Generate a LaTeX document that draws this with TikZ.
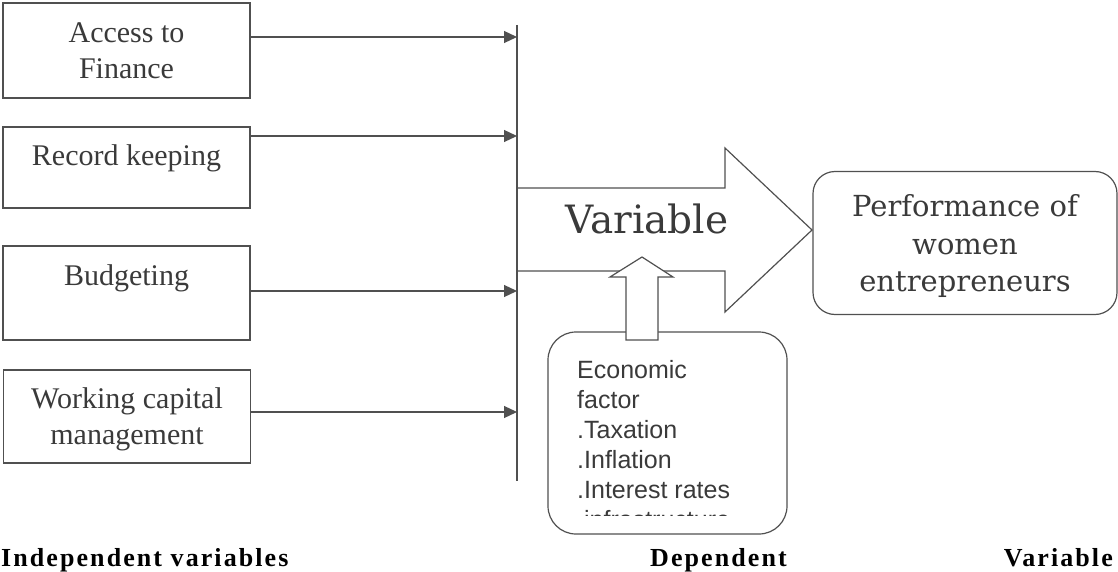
\documentclass[tikz,border=0pt]{standalone}
\usepackage{fontspec}
\usepackage{xcolor}
\usepackage{tikz}
\usetikzlibrary{arrows.meta}
\newfontfamily\boxfont{Liberation Serif}
\newfontfamily\capfont{DejaVu Serif}
\newfontfamily\listfont{Liberation Sans}
\newfontfamily\tagfont[LetterSpace=8]{Liberation Serif}
\definecolor{linegray}{RGB}{80,80,80}
\definecolor{inkgray}{RGB}{58,58,58}

\begin{document}
\begin{tikzpicture}[x=1pt,y=-1pt,
 varbox/.style={draw=linegray,line width=1.2pt,minimum width=247pt,inner sep=0pt,
                align=center,text depth=0pt,text=inkgray,
                font=\boxfont\fontsize{30}{36}\selectfont},
 roundbox/.style={draw=linegray,line width=1.2pt,inner sep=0pt,align=center,
                  text=inkgray},
 feed/.style={-{Triangle[length=13pt,width=12pt]},draw=linegray,line width=1.2pt},
 bus/.style={draw=linegray,line width=1.2pt},
 blockarrow/.style={draw=linegray,line width=1.2pt,line join=miter},
 tagtext/.style={inner sep=0pt,text=black,font=\tagfont\bfseries\fontsize{26}{30}\selectfont}]
 \useasboundingbox (0,0) rectangle (1118,572);
 % independent variables
 \node[varbox,minimum height=95pt] (acc) at (126.5,50.5) {Access to\\Finance};
 \node[varbox,minimum height=81pt,text depth=25.5pt] (rec) at (126.5,167.5) {Record keeping};
 \node[varbox,minimum height=94pt,text depth=36.5pt] (bud) at (126.5,293) {Budgeting};
 \node[varbox,minimum height=93pt] (wcm) at (127,416.5) {Working capital\\management};
 % collecting line
 \coordinate (bustop) at (517,25);
 \coordinate (busbot) at (517,481);
 \draw[bus] (bustop) -- (busbot);
 \coordinate (inA) at (517,37);
 \coordinate (inB) at (517,136);
 \coordinate (inC) at (517,291);
 \coordinate (inD) at (517,412);
 \draw[feed] (acc.east |- inA) -- (inA);
 \draw[feed] (rec.east |- inB) -- (inB);
 \draw[feed] (bud.east |- inC) -- (inC);
 \draw[feed] (wcm.east |- inD) -- (inD);
 % big arrow
 \coordinate (tip) at (812,230);
 \draw[blockarrow] (517,188) -- (725,188) -- (725,148) -- (tip)
   -- (725,312) -- (725,271) -- (517,271);
 \node[inner sep=0pt,text=inkgray,font=\capfont\fontsize{39}{44}\selectfont,anchor=base]
   (var) at (647,233) {Variable};
 % dependent variable
 \node[roundbox,rounded corners=22pt,minimum width=304pt,minimum height=143pt,
       text depth=0pt,font=\capfont\fontsize{29}{37.5}\selectfont]
   (perf) at (965,243) {Performance of\\women\\entrepreneurs};
 % economic factor
 \node[roundbox,rounded corners=28pt,minimum width=239pt,minimum height=202pt] (econ) at (667.5,433) {};
 \begin{scope}
  \clip (econ.north west) rectangle (787,515);
  \node[inner sep=0pt,align=left,anchor=north west,text=inkgray,
        font=\listfont\fontsize{25}{30}\selectfont]
    (eclist) at (577,360) {Economic\\factor\\.Taxation\\.Inflation\\.Interest rates\\.infrastructure};
 \end{scope}
 \draw[blockarrow,fill=white] (626,340) -- (626,277) -- (610,277) -- (642,257)
   -- (673,277) -- (658,277) -- (658,340) -- cycle;
 % captions
 \node[tagtext,anchor=base west] (indep) at (1,566) {Independent variables};
 \node[tagtext,anchor=base west] (dep) at (650,566) {Dependent};
 \node[tagtext,anchor=base east] (depvar) at (1113,566) {Variable};
\end{tikzpicture}
\end{document}
